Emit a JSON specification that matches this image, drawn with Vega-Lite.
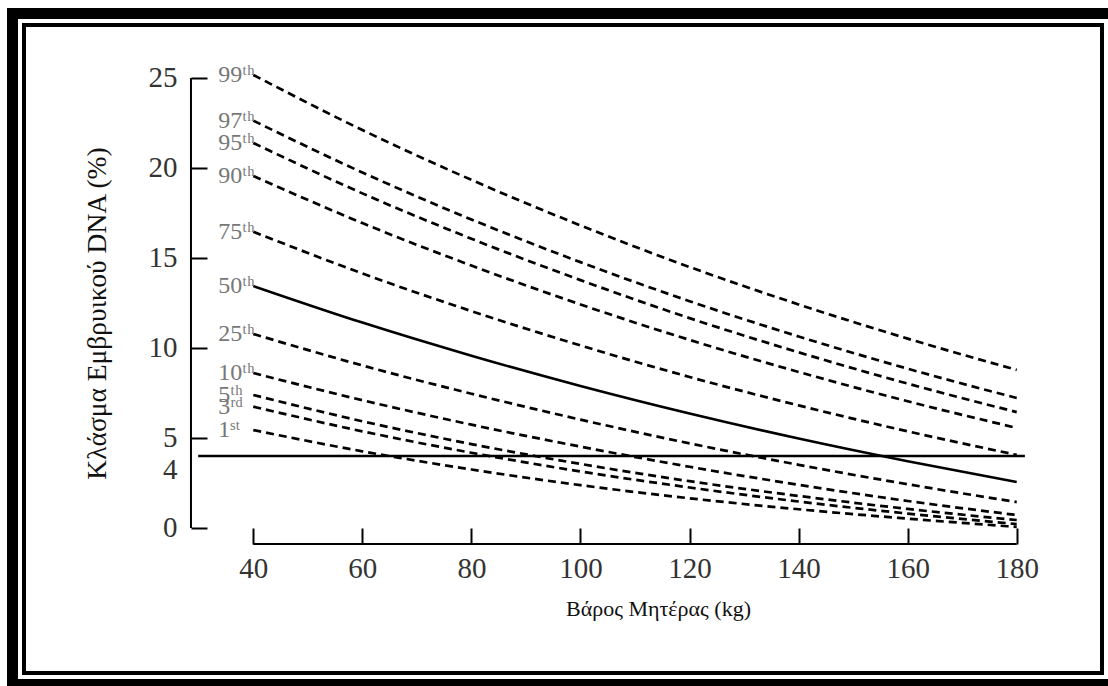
{
  "$schema": "https://vega.github.io/schema/vega-lite/v6.json",
  "width": 1078,
  "height": 648,
  "autosize": {"type": "none"},
  "padding": {"left": 24, "top": 25, "right": 6, "bottom": 13},
  "background": "white",
  "config": {
    "view": {"stroke": "black", "strokeWidth": 34, "fill": "white"},
    "font": "Liberation Serif"
  },
  "datasets": {
    "curves": [
      {"pct": "99", "weight": 40, "value": 25.17}, {"pct": "99", "weight": 60, "value": 22.11}, {"pct": "99", "weight": 80, "value": 19.34}, {"pct": "99", "weight": 100, "value": 16.81}, {"pct": "99", "weight": 120, "value": 14.5}, {"pct": "99", "weight": 140, "value": 12.42}, {"pct": "99", "weight": 160, "value": 10.52}, {"pct": "99", "weight": 180, "value": 8.78},
      {"pct": "97", "weight": 40, "value": 22.63}, {"pct": "97", "weight": 60, "value": 19.75}, {"pct": "97", "weight": 80, "value": 17.14}, {"pct": "97", "weight": 100, "value": 14.77}, {"pct": "97", "weight": 120, "value": 12.6}, {"pct": "97", "weight": 140, "value": 10.64}, {"pct": "97", "weight": 160, "value": 8.85}, {"pct": "97", "weight": 180, "value": 7.22},
      {"pct": "95", "weight": 40, "value": 21.39}, {"pct": "95", "weight": 60, "value": 18.59}, {"pct": "95", "weight": 80, "value": 16.07}, {"pct": "95", "weight": 100, "value": 13.77}, {"pct": "95", "weight": 120, "value": 11.66}, {"pct": "95", "weight": 140, "value": 9.76}, {"pct": "95", "weight": 160, "value": 8.02}, {"pct": "95", "weight": 180, "value": 6.44},
      {"pct": "90", "weight": 40, "value": 19.56}, {"pct": "90", "weight": 60, "value": 16.94}, {"pct": "90", "weight": 80, "value": 14.58}, {"pct": "90", "weight": 100, "value": 12.42}, {"pct": "90", "weight": 120, "value": 10.45}, {"pct": "90", "weight": 140, "value": 8.67}, {"pct": "90", "weight": 160, "value": 7.04}, {"pct": "90", "weight": 180, "value": 5.56},
      {"pct": "75", "weight": 40, "value": 16.46}, {"pct": "75", "weight": 60, "value": 14.14}, {"pct": "75", "weight": 80, "value": 12.05}, {"pct": "75", "weight": 100, "value": 10.14}, {"pct": "75", "weight": 120, "value": 8.39}, {"pct": "75", "weight": 140, "value": 6.81}, {"pct": "75", "weight": 160, "value": 5.37}, {"pct": "75", "weight": 180, "value": 4.06},
      {"pct": "50", "weight": 40, "value": 13.44}, {"pct": "50", "weight": 60, "value": 11.41}, {"pct": "50", "weight": 80, "value": 9.57}, {"pct": "50", "weight": 100, "value": 7.89}, {"pct": "50", "weight": 120, "value": 6.36}, {"pct": "50", "weight": 140, "value": 4.97}, {"pct": "50", "weight": 160, "value": 3.71}, {"pct": "50", "weight": 180, "value": 2.56},
      {"pct": "25", "weight": 40, "value": 10.78}, {"pct": "25", "weight": 60, "value": 9.03}, {"pct": "25", "weight": 80, "value": 7.46}, {"pct": "25", "weight": 100, "value": 6.02}, {"pct": "25", "weight": 120, "value": 4.7}, {"pct": "25", "weight": 140, "value": 3.51}, {"pct": "25", "weight": 160, "value": 2.43}, {"pct": "25", "weight": 180, "value": 1.44},
      {"pct": "10", "weight": 40, "value": 8.61}, {"pct": "10", "weight": 60, "value": 7.1}, {"pct": "10", "weight": 80, "value": 5.74}, {"pct": "10", "weight": 100, "value": 4.52}, {"pct": "10", "weight": 120, "value": 3.4}, {"pct": "10", "weight": 140, "value": 2.4}, {"pct": "10", "weight": 160, "value": 1.5}, {"pct": "10", "weight": 180, "value": 0.72},
      {"pct": "5", "weight": 40, "value": 7.39}, {"pct": "5", "weight": 60, "value": 5.93}, {"pct": "5", "weight": 80, "value": 4.66}, {"pct": "5", "weight": 100, "value": 3.56}, {"pct": "5", "weight": 120, "value": 2.6}, {"pct": "5", "weight": 140, "value": 1.78}, {"pct": "5", "weight": 160, "value": 1.06}, {"pct": "5", "weight": 180, "value": 0.44},
      {"pct": "3", "weight": 40, "value": 6.74}, {"pct": "3", "weight": 60, "value": 5.37}, {"pct": "3", "weight": 80, "value": 4.18}, {"pct": "3", "weight": 100, "value": 3.14}, {"pct": "3", "weight": 120, "value": 2.25}, {"pct": "3", "weight": 140, "value": 1.47}, {"pct": "3", "weight": 160, "value": 0.8}, {"pct": "3", "weight": 180, "value": 0.22},
      {"pct": "1", "weight": 40, "value": 5.44}, {"pct": "1", "weight": 60, "value": 4.26}, {"pct": "1", "weight": 80, "value": 3.25}, {"pct": "1", "weight": 100, "value": 2.38}, {"pct": "1", "weight": 120, "value": 1.65}, {"pct": "1", "weight": 140, "value": 1.04}, {"pct": "1", "weight": 160, "value": 0.52}, {"pct": "1", "weight": 180, "value": 0.06}
    ],
    "reference": [
      {"weight": 29.9, "value": 4},
      {"weight": 181.5, "value": 4}
    ]
  },
  "layer": [
    {
      "data": {"values": [{}]},
      "mark": {"type": "rect", "fill": "white", "stroke": "white", "strokeWidth": 12}
    },
    {
      "data": {"values": [{}]},
      "mark": {"type": "rect", "fillOpacity": 0, "stroke": "black", "strokeWidth": 4}
    },
    {
      "data": {"name": "curves"},
      "transform": [{"filter": "datum.pct != '50'"}],
      "mark": {"type": "line", "color": "black", "strokeWidth": 2.7, "strokeDash": [8, 5], "interpolate": "monotone"},
      "encoding": {
        "x": {
          "field": "weight", "type": "quantitative",
          "scale": {"domain": [-2.05, 195.64], "nice": false, "zero": false},
          "axis": {
            "values": [40, 60, 80, 100, 120, 140, 160, 180],
            "offset": -145, "tickSize": 16, "tickWidth": 2, "tickColor": "black",
            "domain": false, "grid": false, "labelPadding": 10, "labelFontSize": 29,
            "labelFont": "Liberation Serif", "labelColor": "#333", "labelFlush": false, "labelOverlap": false,
            "title": "Βάρος Μητέρας (kg)", "titleFont": "Liberation Serif", "titleFontSize": 22,
            "titleFontWeight": "normal", "titleColor": "#111", "titleX": 634, "titleY": 80,
            "titleBaseline": "middle", "zindex": 1
          }
        },
        "y": {
          "field": "value", "type": "quantitative",
          "scale": {"domain": [-8.056, 27.944], "nice": false, "zero": false},
          "axis": {
            "values": [0, 4, 5, 10, 15, 20, 25],
            "offset": -183, "tickSize": 16, "tickWidth": 2,
            "tickColor": {"condition": {"test": "datum.value == 4", "value": "transparent"}, "value": "black"},
            "labelBaseline": {"condition": {"test": "datum.value == 4", "value": "top"}, "value": "middle"},
            "domain": false, "grid": false, "labelPadding": 14, "labelFontSize": 29,
            "labelFont": "Liberation Serif", "labelColor": "#333", "labelOverlap": false, "labelFlush": false,
            "title": "Κλάσμα Εμβρυικού DNA (%)", "titleFont": "Liberation Serif", "titleFontSize": 27.5,
            "titleFontWeight": "normal", "titleColor": "#111", "titleX": -110, "titleY": 288,
            "titleAngle": -90, "titleBaseline": "middle", "zindex": 1
          }
        },
        "detail": {"field": "pct", "type": "nominal"}
      }
    },
    {
      "data": {"name": "curves"},
      "transform": [{"filter": "datum.pct == '50'"}],
      "mark": {"type": "line", "color": "black", "strokeWidth": 2.6, "interpolate": "monotone"},
      "encoding": {
        "x": {"field": "weight", "type": "quantitative"},
        "y": {"field": "value", "type": "quantitative"}
      }
    },
    {
      "data": {"name": "reference"},
      "mark": {"type": "line", "color": "black", "strokeWidth": 2.6},
      "encoding": {
        "x": {"field": "weight", "type": "quantitative"},
        "y": {"field": "value", "type": "quantitative"}
      }
    },
    {
      "data": {"values": [{}]},
      "mark": {"type": "rule", "color": "black", "strokeWidth": 2},
      "encoding": {
        "x": {"datum": 28.57, "type": "quantitative"},
        "y": {"datum": 0, "type": "quantitative"},
        "y2": {"datum": 25}
      }
    },
    {
      "data": {"values": [{}]},
      "mark": {"type": "rule", "color": "black", "strokeWidth": 2},
      "encoding": {
        "x": {"datum": 40, "type": "quantitative"},
        "x2": {"datum": 180},
        "y": {"datum": -0.889, "type": "quantitative"}
      }
    },
    {
      "data": {"name": "curves"},
      "transform": [
        {"filter": "datum.weight == 40"},
        {"calculate": "datum.pct + (datum.pct == '1' ? 'ˢᵗ' : datum.pct == '3' ? 'ʳᵈ' : 'ᵗʰ')", "as": "label"}
      ],
      "mark": {"type": "text", "align": "left", "baseline": "middle", "dx": -35, "fontSize": 24, "font": "Liberation Serif", "color": "#777"},
      "encoding": {
        "x": {"field": "weight", "type": "quantitative"},
        "y": {"field": "value", "type": "quantitative"},
        "text": {"field": "label"}
      }
    }
  ]
}
